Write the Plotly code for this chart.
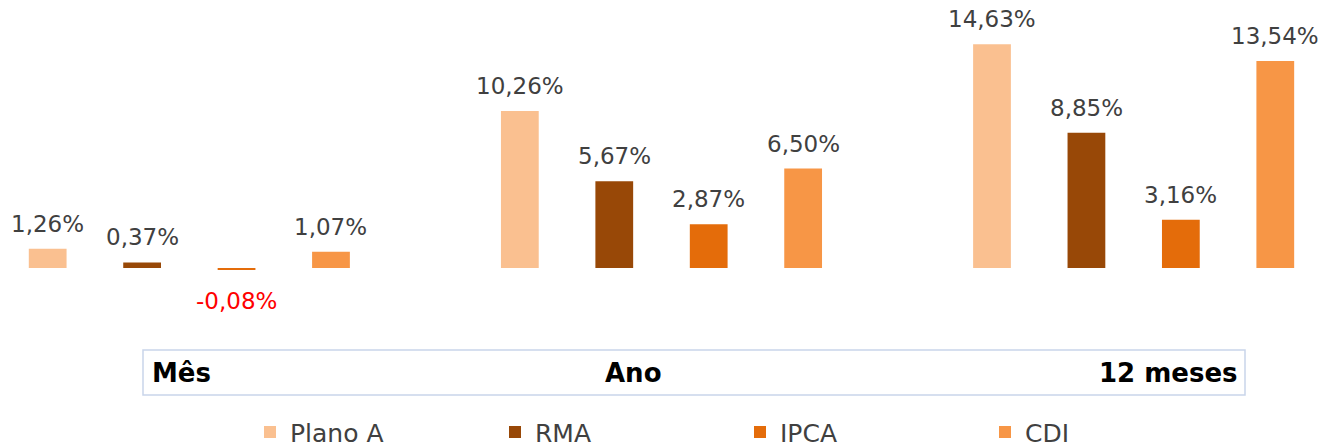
import plotly.graph_objects as go

categories = ["Mês", "Ano", "12 meses"]
series_names = ["Plano A", "RMA", "IPCA", "CDI"]
plano_a = [1.26, 10.26, 14.63]
rma = [0.37, 5.67, 8.85]
ipca = [-0.08, 2.87, 3.16]
cdi = [1.07, 6.50, 13.54]
colors = ["#FAC090", "#984807", "#E46C0A", "#F79646"]

values = [plano_a, rma, ipca, cdi]

BARGAP = 0.2
BARGROUPGAP = 0.6

def fmt(v):
    return f"{v:.2f}%".replace(".", ",")

fig = go.Figure()
n_series = len(series_names)
slot = (1 - BARGAP) / n_series
for si, (name, vals, col) in enumerate(zip(series_names, values, colors)):
    fig.add_trace(go.Bar(
        name=name,
        x=categories,
        y=vals,
        marker=dict(color=col, line=dict(width=0)),
        cliponaxis=False,
    ))
    # data labels placed at each bar through the axis scales
    offset = (si - (n_series - 1) / 2) * slot
    for ci, v in enumerate(vals):
        neg = v < 0
        fig.add_annotation(
            x=ci + offset, y=v, xref="x", yref="y",
            text=fmt(v), showarrow=False,
            yanchor="top" if neg else "bottom",
            yshift=-17 if neg else 10,
            font=dict(family="DejaVu Sans", size=23,
                      color="#FF0000" if neg else "#404040"),
        )

W, H = 1331, 448
plot_h = 330
fig.update_layout(
    width=W, height=H,
    margin=dict(l=0, r=0, t=0, b=H - plot_h, autoexpand=False),
    paper_bgcolor="white", plot_bgcolor="white",
    barmode="group", bargap=BARGAP, bargroupgap=BARGROUPGAP,
    showlegend=True,
    legend=dict(orientation="h", x=250 / W, xanchor="left",
                y=-0.24, yanchor="top",
                entrywidth=200, entrywidthmode="pixels",
                font=dict(family="DejaVu Sans", size=25, color="#404040"),
                bgcolor="rgba(0,0,0,0)"),
    xaxis=dict(range=[-0.401, 2.418], showticklabels=False, showgrid=False,
               zeroline=False, showline=False, ticks="",
               categoryorder="array", categoryarray=categories),
    yaxis=dict(range=[-4.05, 17.52], visible=False, showgrid=False, zeroline=False),
)

# category label box
fig.add_shape(type="rect", xref="paper", yref="paper",
              x0=143 / W, x1=1245 / W,
              y0=(plot_h - 395) / plot_h, y1=(plot_h - 350) / plot_h,
              line=dict(color="#C9D5EA", width=1.5), fillcolor="rgba(0,0,0,0)")

label_specs = [(150 / W, "left"), (633 / W, "center"), (1240 / W, "right")]
for cat, (xp, anchor) in zip(categories, label_specs):
    fig.add_annotation(text=f"<b>{cat}</b>", xref="paper", yref="paper",
                       x=xp, xanchor=anchor, y=(plot_h - 373) / plot_h, yanchor="middle",
                       showarrow=False,
                       font=dict(family="DejaVu Sans", size=26, color="#000000"))

fig.write_html("out.html", config={"displayModeBar": False},
               post_script="document.body.style.margin='0';")
